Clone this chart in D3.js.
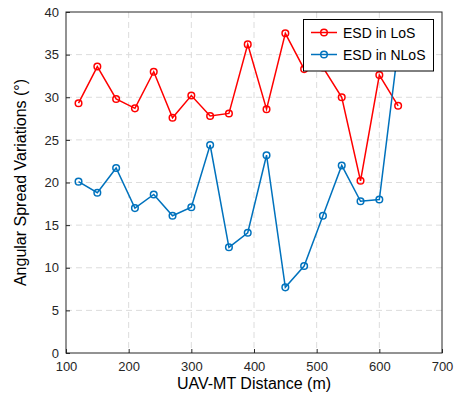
<!DOCTYPE html>
<html><head><meta charset="utf-8">
<script src="https://cdn.jsdelivr.net/npm/d3@7"></script>
<style>body{margin:0;background:#fff}text{font-family:"Liberation Sans",Arial,sans-serif}</style>
</head><body><svg id="c" width="456" height="400"></svg>
<script>
const distances = [120,150,180,210,240,270,300,330,360,390,420,450,480,510,540,570,600,630];
const losValues = [29.3,33.6,29.8,28.7,33.0,27.6,30.2,27.8,28.1,36.2,28.6,37.5,33.3,33.5,30.0,20.2,32.6,29.0];
const nlosValues = [20.1,18.8,21.7,17.0,18.6,16.1,17.1,24.4,12.4,14.1,23.2,7.7,10.2,16.1,22.0,17.8,18.0,35.8];
const xTicks = [0,100,200,300,400,500,600,700];
const yTicks = [0,5,10,15,20,25,30,35,40];
const seriesNames = ["ESD in LoS","ESD in NLoS"];
const seriesColors = ["#ff0000","#0072bd"];

const svg = d3.select("#c");
const L=66,R=442,T=12,B=353;
const x = d3.scaleLinear().domain([100,700]).range([L,R]);
const y = d3.scaleLinear().domain([0,40]).range([B,T]);
const axisColor="#262626";

// grid
const g = svg.append("g");
g.selectAll(".gx").data(xTicks.filter(d=>d>100&&d<700)).enter().append("line")
 .attr("x1",d=>x(d)).attr("x2",d=>x(d)).attr("y1",T).attr("y2",B)
 .attr("stroke","#dcdcdc").attr("stroke-dasharray","6,4").attr("stroke-width",1);
g.selectAll(".gy").data(yTicks.filter(d=>d>0&&d<40)).enter().append("line")
 .attr("x1",L).attr("x2",R).attr("y1",d=>y(d)).attr("y2",d=>y(d))
 .attr("stroke","#dcdcdc").attr("stroke-dasharray","6,4").attr("stroke-width",1);

// axes
const xa = svg.append("g").attr("transform",`translate(0,${B})`)
 .call(d3.axisBottom(x).tickValues(xTicks.filter(d=>d>=100)).tickSize(-4).tickPadding(9).tickFormat(d3.format("d")));
const ya = svg.append("g").attr("transform",`translate(${L},0)`)
 .call(d3.axisLeft(y).tickValues(yTicks).tickSize(-4).tickPadding(7));
[xa,ya].forEach(a=>{a.select(".domain").remove();a.selectAll("line").attr("stroke",axisColor);
 a.selectAll("text").attr("fill",axisColor).style("font-size","13px").style("font-family","Liberation Sans, Arial, sans-serif");});
svg.append("rect").attr("x",L).attr("y",T).attr("width",R-L).attr("height",B-T)
 .attr("fill","none").attr("stroke",axisColor).attr("stroke-width",1);

// series
const series=[losValues,nlosValues];
const plot = svg.append("g");
series.forEach((vals,i)=>{
  const data = distances.map((d,j)=>[d,vals[j]]);
  plot.append("path").datum(data).attr("fill","none").attr("stroke",seriesColors[i]).attr("stroke-width",1.5)
   .attr("d",d3.line().x(d=>x(d[0])).y(d=>y(d[1])));
  plot.selectAll(".m"+i).data(data).enter().append("circle")
   .attr("cx",d=>x(d[0])).attr("cy",d=>y(d[1])).attr("r",3.3)
   .attr("fill","none").attr("stroke",seriesColors[i]).attr("stroke-width",1.5);
});

// legend
const lg = svg.append("g");
lg.append("rect").attr("x",303.5).attr("y",19.5).attr("width",130).attr("height",51.5)
 .attr("fill","#fff").attr("stroke","#000").attr("stroke-width",1);
seriesNames.forEach((n,i)=>{
  const yy = 32.5 + i*22;
  lg.append("line").attr("x1",311).attr("x2",337).attr("y1",yy).attr("y2",yy)
   .attr("stroke",seriesColors[i]).attr("stroke-width",1.5);
  lg.append("circle").attr("cx",324).attr("cy",yy).attr("r",3.3).attr("fill","none")
   .attr("stroke",seriesColors[i]).attr("stroke-width",1.5);
  lg.append("text").attr("x",343).attr("y",yy+5).text(n).style("font-size","14px").attr("fill","#000");
});

// titles
svg.append("text").attr("x",(L+R)/2).attr("y",389).attr("text-anchor","middle")
 .style("font-size","16px").attr("fill","#000").text("UAV-MT Distance (m)");
svg.append("text").attr("transform",`translate(26,${(T+B)/2}) rotate(-90)`).attr("text-anchor","middle")
 .style("font-size","16px").attr("fill","#000").text("Angular Spread Variations (°)");
</script></body></html>
